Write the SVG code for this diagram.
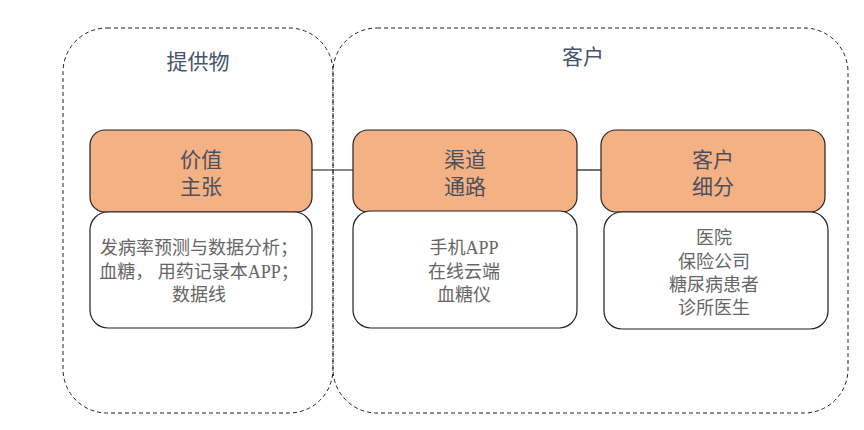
<svg xmlns="http://www.w3.org/2000/svg" width="864" height="430" viewBox="0 0 864 430">
<style>
.grp{fill:none;stroke:#222;stroke-width:1;stroke-dasharray:4,3}
.hd{fill:#F4B183;stroke:#222;stroke-width:1.2}
.bd{fill:#fff;stroke:#222;stroke-width:1.2}
.ttl{font-family:"Noto Sans CJK SC","Noto Sans",sans-serif;font-size:21px;fill:#44546A;text-anchor:middle}
.ht{font-family:"Noto Sans CJK SC","Noto Sans",sans-serif;font-size:21px;fill:#4a5060;text-anchor:middle}
.bt{font-family:"Liberation Serif","Noto Sans CJK SC",serif;font-size:18px;fill:#666;text-anchor:middle}
.cn{stroke:#111;stroke-width:1.2;fill:none}
</style>
<rect width="864" height="430" fill="#fff"/>
<g id="group-offer">
<rect class="grp" x="63" y="28" width="270" height="385" rx="44" ry="44"/>
<text class="ttl" x="198" y="69">提供物</text>
</g>
<g id="group-customer">
<rect class="grp" x="333" y="28" width="515" height="385" rx="44" ry="44"/>
<text class="ttl" x="583" y="64">客户</text>
</g>
<g id="connectors">
<line class="cn" x1="312" y1="170" x2="353" y2="170"/>
<line class="cn" x1="577" y1="170" x2="601" y2="170"/>
</g>
<g id="node-value">
<rect class="hd" x="90" y="130" width="222" height="82" rx="15" ry="15"/>
<text class="ht" x="201" y="167">价值</text>
<text class="ht" x="201" y="194">主张</text>
</g>
<g id="node-value-detail">
<rect class="bd" x="90" y="212" width="222" height="116" rx="18" ry="18"/>
<text class="bt" x="199" y="254">发病率预测与数据分析；</text>
<text class="bt" x="199" y="278">血糖， 用药记录本APP；</text>
<text class="bt" x="199" y="301">数据线</text>
</g>
<g id="node-channel">
<rect class="hd" x="353" y="130" width="224" height="82" rx="15" ry="15"/>
<text class="ht" x="465" y="167">渠道</text>
<text class="ht" x="465" y="194">通路</text>
</g>
<g id="node-channel-detail">
<rect class="bd" x="353" y="211" width="224" height="117" rx="18" ry="18"/>
<text class="bt" x="464" y="254">手机APP</text>
<text class="bt" x="464" y="278">在线云端</text>
<text class="bt" x="464" y="301">血糖仪</text>
</g>
<g id="node-segment">
<rect class="hd" x="601" y="130" width="224" height="82" rx="15" ry="15"/>
<text class="ht" x="713" y="167">客户</text>
<text class="ht" x="713" y="194">细分</text>
</g>
<g id="node-segment-detail">
<rect class="bd" x="604" y="212" width="224" height="117" rx="18" ry="18"/>
<text class="bt" x="714" y="244">医院</text>
<text class="bt" x="714" y="268">保险公司</text>
<text class="bt" x="714" y="291">糖尿病患者</text>
<text class="bt" x="714" y="314">诊所医生</text>
</g>
</svg>
